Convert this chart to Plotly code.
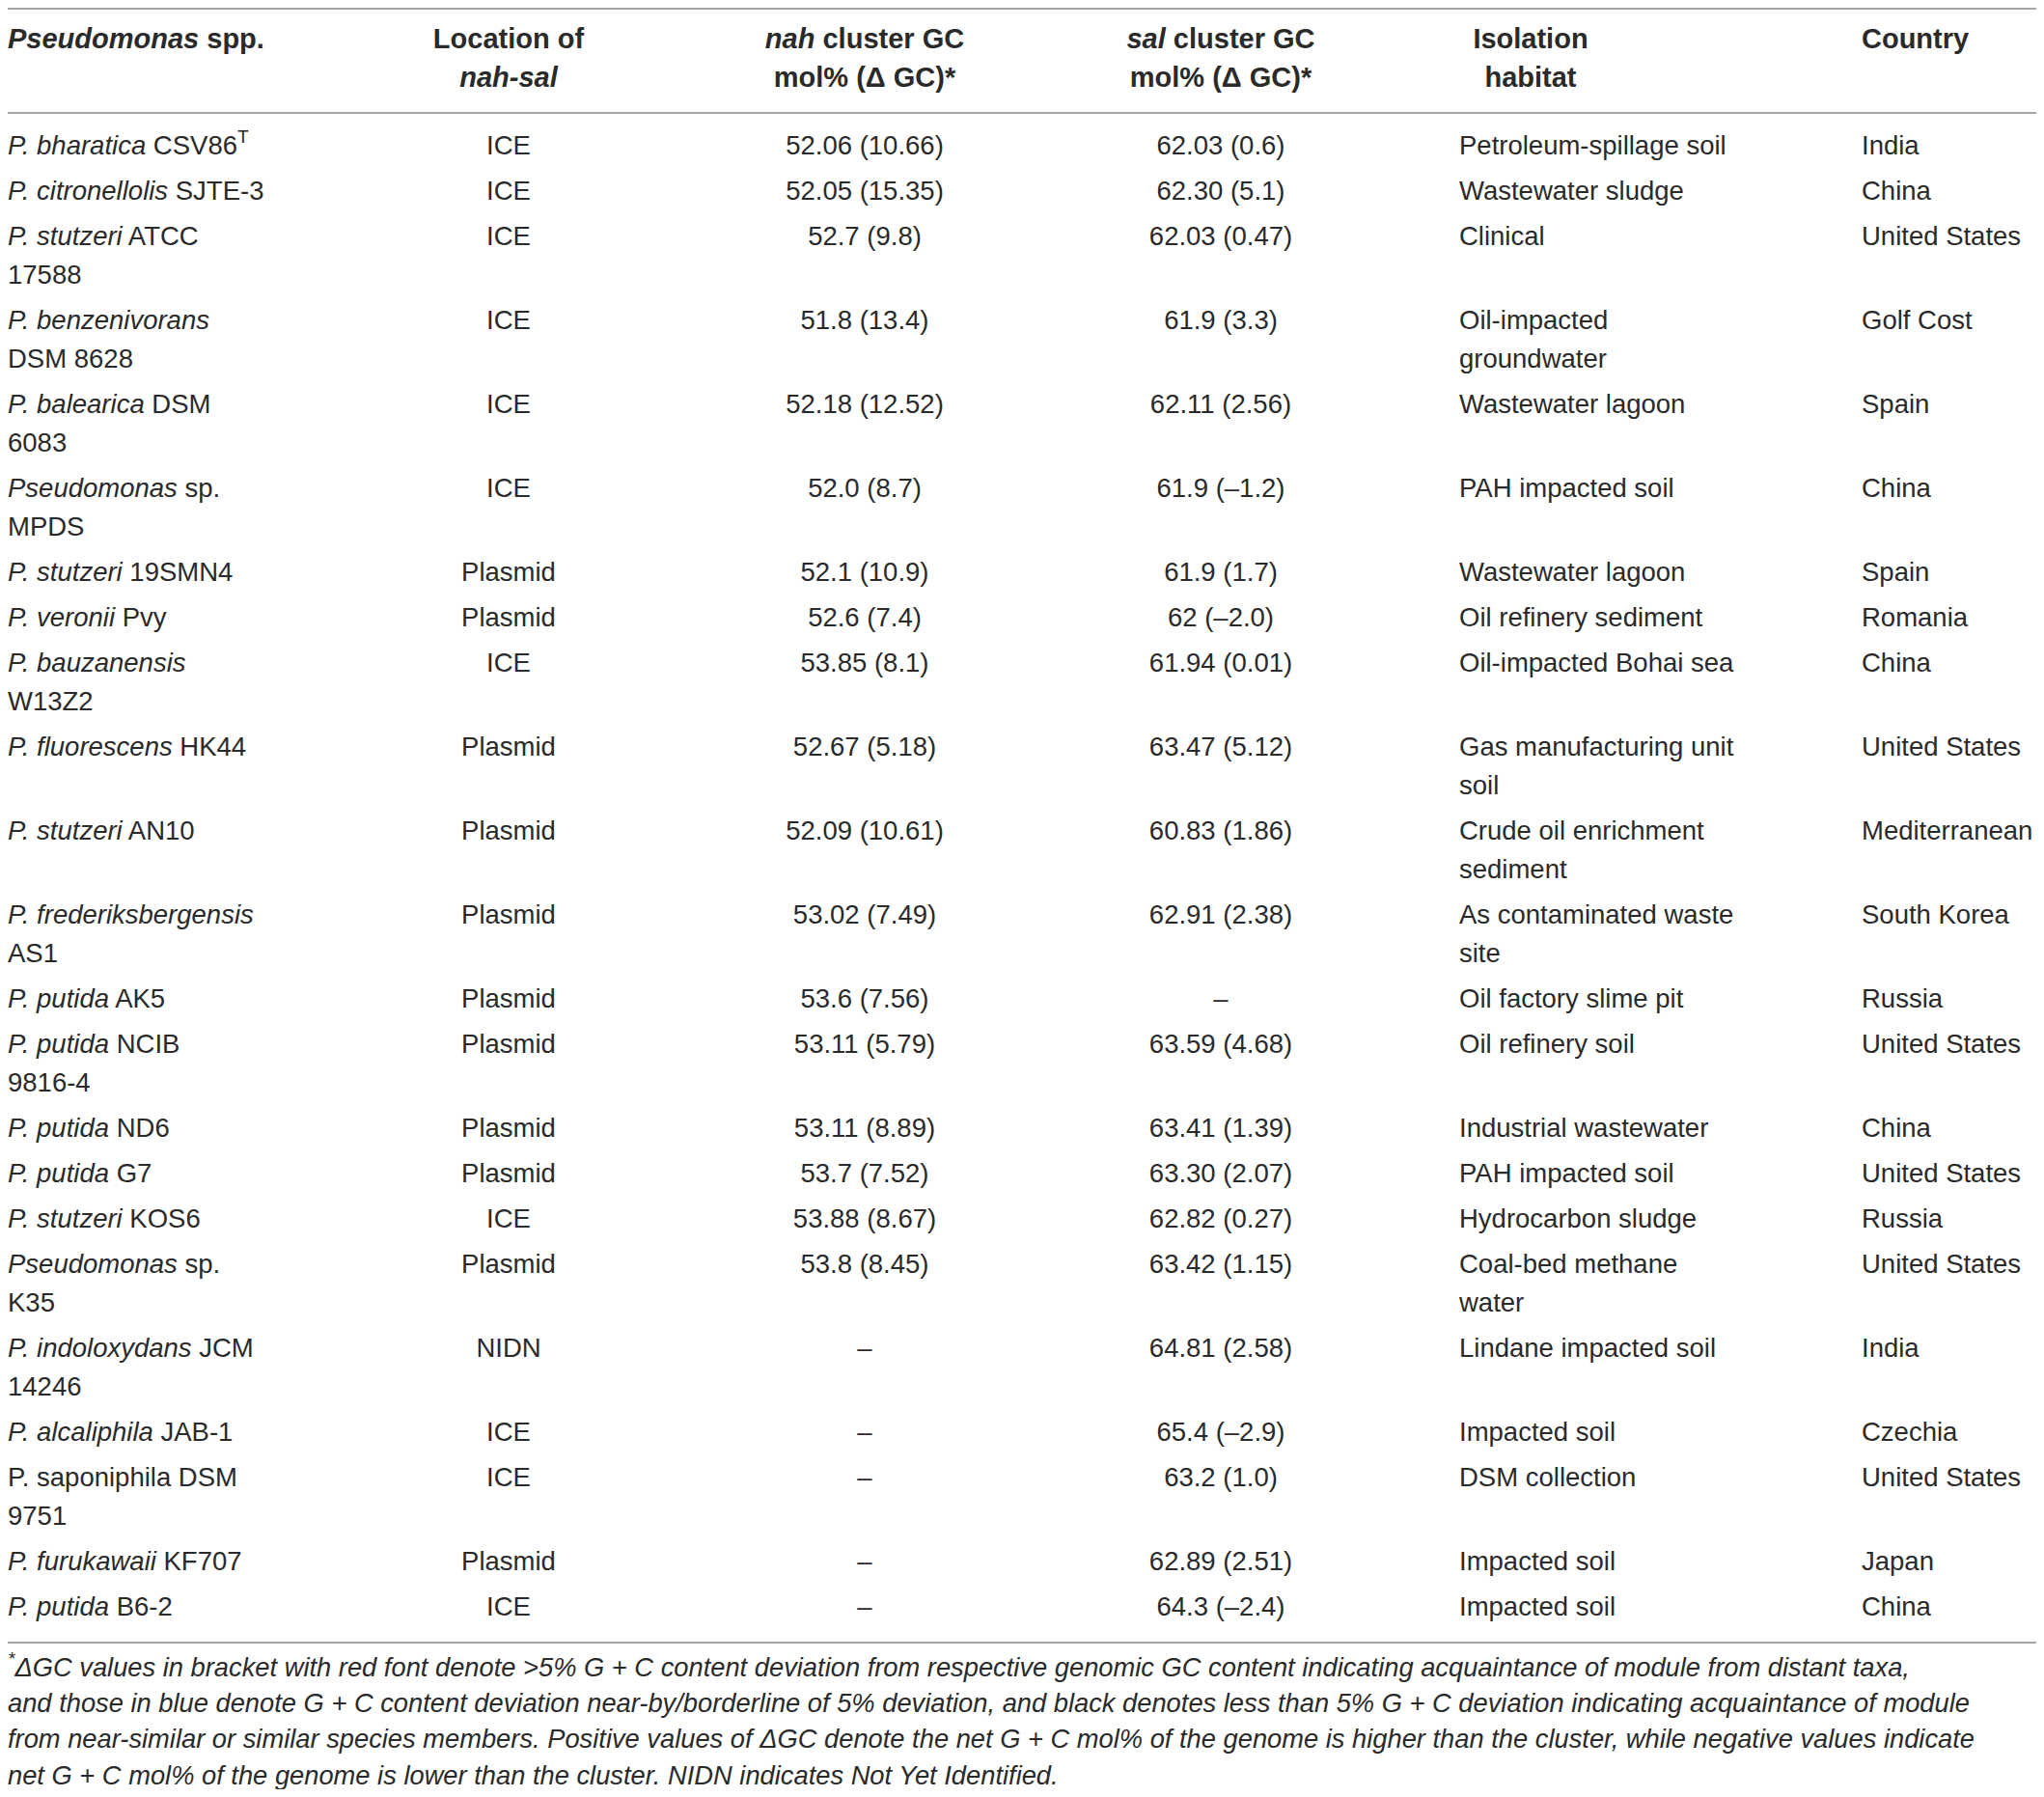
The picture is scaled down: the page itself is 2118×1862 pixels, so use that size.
import plotly.graph_objects as go

# table content
names = [
    "<i>P. bharatica</i> CSV86<sup>T</sup>",
    "<i>P. citronellolis</i> SJTE-3",
    "<i>P. stutzeri</i> ATCC<br>17588",
    "<i>P. benzenivorans</i><br>DSM 8628",
    "<i>P. balearica</i> DSM<br>6083",
    "<i>Pseudomonas</i> sp.<br>MPDS",
    "<i>P. stutzeri</i> 19SMN4",
    "<i>P. veronii</i> Pvy",
    "<i>P. bauzanensis</i><br>W13Z2",
    "<i>P. fluorescens</i> HK44",
    "<i>P. stutzeri</i> AN10",
    "<i>P. frederiksbergensis</i><br>AS1",
    "<i>P. putida</i> AK5",
    "<i>P. putida</i> NCIB<br>9816-4",
    "<i>P. putida</i> ND6",
    "<i>P. putida</i> G7",
    "<i>P. stutzeri</i> KOS6",
    "<i>Pseudomonas</i> sp.<br>K35",
    "<i>P. indoloxydans</i> JCM<br>14246",
    "<i>P. alcaliphila</i> JAB-1",
    "P. saponiphila DSM<br>9751",
    "<i>P. furukawaii</i> KF707",
    "<i>P. putida</i> B6-2",
]
location = ["ICE", "ICE", "ICE", "ICE", "ICE", "ICE", "Plasmid", "Plasmid",
            "ICE", "Plasmid", "Plasmid", "Plasmid", "Plasmid", "Plasmid",
            "Plasmid", "Plasmid", "ICE", "Plasmid", "NIDN", "ICE", "ICE",
            "Plasmid", "ICE"]
nah_gc = ["52.06 (10.66)", "52.05 (15.35)", "52.7 (9.8)", "51.8 (13.4)",
          "52.18 (12.52)", "52.0 (8.7)", "52.1 (10.9)", "52.6 (7.4)",
          "53.85 (8.1)", "52.67 (5.18)", "52.09 (10.61)", "53.02 (7.49)",
          "53.6 (7.56)", "53.11 (5.79)", "53.11 (8.89)", "53.7 (7.52)",
          "53.88 (8.67)", "53.8 (8.45)", "–", "–", "–", "–", "–"]
sal_gc = ["62.03 (0.6)", "62.30 (5.1)", "62.03 (0.47)", "61.9 (3.3)",
          "62.11 (2.56)", "61.9 (–1.2)", "61.9 (1.7)", "62 (–2.0)",
          "61.94 (0.01)", "63.47 (5.12)", "60.83 (1.86)", "62.91 (2.38)",
          "–", "63.59 (4.68)", "63.41 (1.39)", "63.30 (2.07)",
          "62.82 (0.27)", "63.42 (1.15)", "64.81 (2.58)", "65.4 (–2.9)",
          "63.2 (1.0)", "62.89 (2.51)", "64.3 (–2.4)"]
habitat = ["Petroleum-spillage soil", "Wastewater sludge", "Clinical",
           "Oil-impacted<br>groundwater", "Wastewater lagoon",
           "PAH impacted soil", "Wastewater lagoon", "Oil refinery sediment",
           "Oil-impacted Bohai sea", "Gas manufacturing unit<br>soil",
           "Crude oil enrichment<br>sediment", "As contaminated waste<br>site",
           "Oil factory slime pit", "Oil refinery soil",
           "Industrial wastewater", "PAH impacted soil", "Hydrocarbon sludge",
           "Coal-bed methane<br>water", "Lindane impacted soil",
           "Impacted soil", "DSM collection", "Impacted soil", "Impacted soil"]
country = ["India", "China", "United States", "Golf Cost", "Spain", "China",
           "Spain", "Romania", "China", "United States", "Mediterranean",
           "South Korea", "Russia", "United States", "China", "United States",
           "Russia", "United States", "India", "Czechia", "United States",
           "Japan", "China"]

headers = [
    "<i>Pseudomonas</i> spp.",
    "Location of<br><i>nah-sal</i>",
    "<i>nah</i> cluster GC<br>mol% (Δ GC)*",
    "<i>sal</i> cluster GC<br>mol% (Δ GC)*",
    "Isolation<br>habitat",
    "Country",
]

footnote = [
    "<sup>*</sup>ΔGC values in bracket with red font denote >5% G + C content deviation from respective genomic GC content indicating acquaintance of module from distant taxa,",
    "and those in blue denote G + C content deviation near-by/borderline of 5% deviation, and black denotes less than 5% G + C deviation indicating acquaintance of module",
    "from near-similar or similar species members. Positive values of ΔGC denote the net G + C mol% of the genome is higher than the cluster, while negative values indicate",
    "net G + C mol% of the genome is lower than the cluster. NIDN indicates Not Yet Identified.",
]

# page geometry in pixels (body has an 8px margin)
W, H = 2118, 1862
PAD = 8
col_x = [PAD, 527, 896, 1265, 1512, 1929]
col_pos = ["middle right", "middle center", "middle center", "middle center",
           "middle right", "middle right"]
head_x = [PAD, 527, 896, 1265, 1586, 1929]
head_pos = ["middle right", "middle center", "middle center", "middle center",
            "middle center", "middle right"]
first_row = 153
row_gap = 47
line_gap = 40
TXT = "#2a2a2a"
FONT = "Liberation Sans, Arial, sans-serif"
SIZE = 27.5

columns = [names, location, nah_gc, sal_gc, habitat, country]

# lay out rows, wrapped cells take extra lines
cells = [([], []) for _ in columns]
y = first_row
for i in range(len(names)):
    parts = [col[i].split("<br>") for col in columns]
    for c, lines in enumerate(parts):
        for k, line in enumerate(lines):
            cells[c][0].append(y + k * line_gap)
            cells[c][1].append(line)
    nlines = max(len(p) for p in parts)
    y += row_gap + line_gap * (nlines - 1)

fig = go.Figure()

for c, (ys, texts) in enumerate(cells):
    fig.add_trace(go.Scatter(
        x=[col_x[c]] * len(ys), y=ys, text=texts, mode="text",
        textposition=col_pos[c], hoverinfo="skip", cliponaxis=False,
        textfont=dict(family=FONT, size=SIZE, color=TXT)))

# header
for c, h in enumerate(headers):
    lines = h.split("<br>")
    fig.add_trace(go.Scatter(
        x=[head_x[c]] * len(lines), y=[43 + k * line_gap for k in range(len(lines))],
        text=lines, mode="text", textposition=head_pos[c], hoverinfo="skip",
        cliponaxis=False,
        textfont=dict(family=FONT, size=29, color=TXT, weight="bold")))

# footnote
fig.add_trace(go.Scatter(
    x=[PAD] * len(footnote), y=[1730 + k * 37.3 for k in range(len(footnote))],
    text=footnote, mode="text", textposition="middle right", hoverinfo="skip",
    cliponaxis=False,
    textfont=dict(family=FONT, size=27.3, color=TXT, style="italic")))

rule = dict(type="line", xref="x", yref="y", x0=PAD, x1=W - PAD,
            line=dict(color="#a6a6a6", width=2))
for ry in [9, 117, 1702]:
    fig.add_shape(**rule, y0=ry, y1=ry)

fig.update_layout(
    width=W - 2 * PAD, height=H - 2 * PAD, autosize=False,
    margin=dict(l=0, r=0, t=0, b=0),
    paper_bgcolor="white", plot_bgcolor="white",
    showlegend=False,
    xaxis=dict(range=[PAD, W - PAD], visible=False, fixedrange=True),
    yaxis=dict(range=[H - PAD, PAD], visible=False, fixedrange=True),
)

fig.write_html("out.html")
